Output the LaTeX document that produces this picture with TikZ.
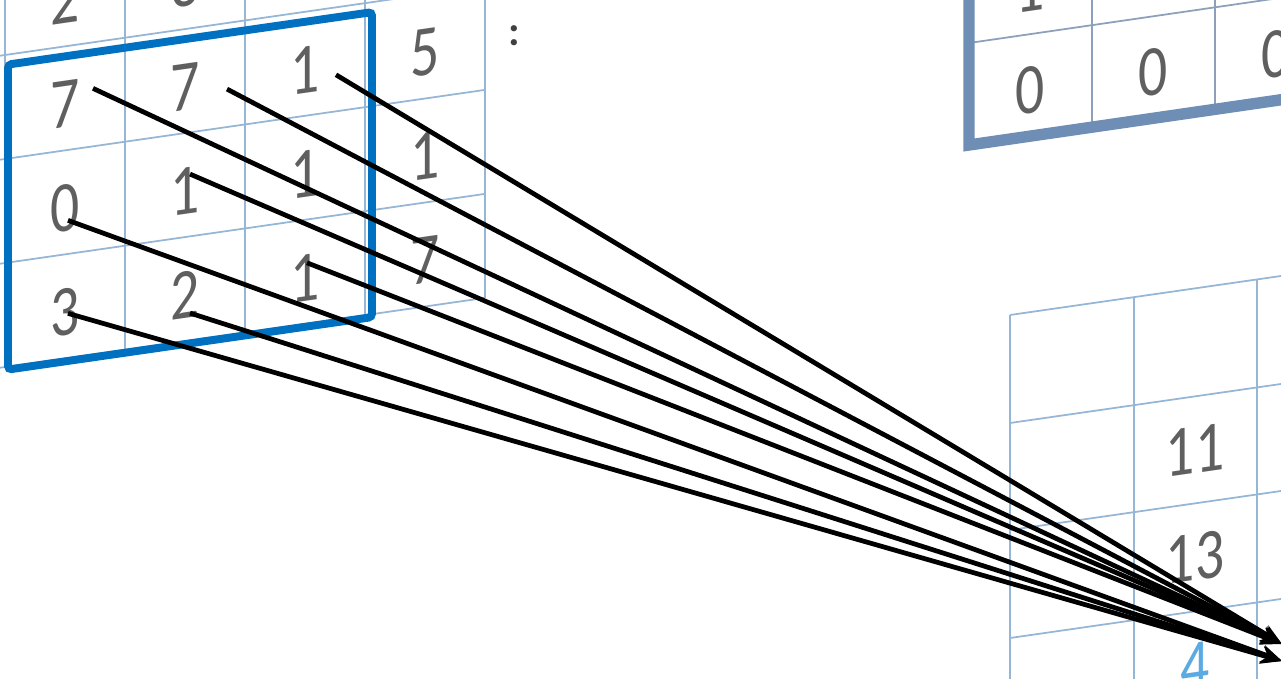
\documentclass[tikz,border=0pt]{standalone}
\usepackage{fontspec}
\setmainfont{Carlito}
\newfontfamily\digitfont[FakeStretch=0.8]{Carlito}
\usetikzlibrary{arrows.meta}

\definecolor{gridblue}{RGB}{150,182,214}
\definecolor{kernelblue}{RGB}{0,112,192}
\definecolor{outblue}{RGB}{110,142,182}
\definecolor{outgrid}{RGB}{140,160,186}
\definecolor{digitgray}{RGB}{95,95,95}
\definecolor{newblue}{RGB}{91,170,225}

\begin{document}
\begin{tikzpicture}[
    x=0.2mm, y=-0.2mm,
    cell/.style={draw=gridblue, line width=1pt},
    digit/.style={font=\digitfont\fontsize{41}{41}\selectfont, text=digitgray, inner sep=0pt, transform shape},
    link/.style={->, line width=2.7pt},
    >={Stealth[length=12pt,width=10pt]}
]
    \useasboundingbox (0,0) rectangle (1281,678);
    \clip (0,0) rectangle (1281,678);

    % Input grid (left)
    \begin{scope}[shift={(5,367)}, yslant=0.144]
        \foreach \x in {-120,0,...,480} \draw[cell] (\x,0) -- (\x,-520);
        \foreach \y in {0,-104,...,-416} \draw[cell] (-120,\y) -- (480,\y);

        \node[digit] (a30) at (60,-358) {2};
        \node[digit] (a31) at (180,-358) {3};

        \node[digit] (a20) at (60,-254) {7};
        \node[digit] (a21) at (180,-254) {7};
        \node[digit] (a22) at (300,-254) {1};
        \node[digit] (a23) at (420,-254) {5};

        \node[digit] (a10) at (60,-150) {0};
        \node[digit] (a11) at (180,-150) {1};
        \node[digit] (a12) at (300,-150) {1};
        \node[digit] (a13) at (420,-150) {1};

        \node[digit] (a00) at (60,-46) {3};
        \node[digit] (a01) at (180,-46) {2};
        \node[digit] (a02) at (300,-46) {1};
        \node[digit] (a03) at (420,-46) {7};

        % Kernel window
        \draw[kernelblue, line width=4.5pt, rounded corners=2pt]
            (3,3) -- (3,-302) -- (367,-302) -- (367,3) -- cycle;
    \end{scope}

    \node[font=\bfseries\fontsize{24}{24}\selectfont, text=black!75] (colon) at (514,36) {:};

    % Output grid (top right)
    \begin{scope}[shift={(969,145)}, yslant=0.145]
        \foreach \x in {123,246} \draw[draw=outgrid, line width=1pt] (\x,0) -- (\x,-300);
        \foreach \y in {-102,-204} \draw[draw=outgrid, line width=1pt] (0,\y) -- (330,\y);
        \draw[outblue, line width=6.5pt, line join=miter] (0,-300) -- (0,0) -- (330,0);

        \node[digit] (o10) at (61,-148) {1};
        \node[digit] (o00) at (61,-46) {0};
        \node[digit] (o01) at (184,-46) {0};
        \node[digit] (o02) at (307,-46) {0};
    \end{scope}

    % Result grid (bottom right)
    \begin{scope}[shift={(1010,315)}, yslant=0.144]
        \foreach \x in {0,124,247} \draw[cell] (\x,0) -- (\x,420);
        \foreach \y in {0,108,215,323} \draw[cell] (0,\y) -- (300,\y);

        \node[digit] (r11) at (185,162) {11};
        \node[digit] (r13) at (185,269) {13};
        \node[digit, text=newblue] (r4) at (185,378) {4};
    \end{scope}

    % Arrows
    \coordinate (t1) at (1282,644);
    \coordinate (t2) at (1282,661);

    \draw[link] ([shift={(28,-16)}]a20.center) -- (t1);
    \draw[link] ([shift={(42,2)}]a21.center) -- (t1);
    \draw[link] ([shift={(31,5)}]a22.center) -- (t1);
    \draw[link] ([shift={(5,-17)}]a11.center) -- (t1);
    \draw[link] ([shift={(2,-15)}]a02.center) -- (t1);
    \draw[link] ([shift={(3,12)}]a10.center) -- (t2);
    \draw[link] ([shift={(3,1)}]a00.center) -- (t2);
    \draw[link] ([shift={(5,18)}]a01.center) -- (t2);
\end{tikzpicture}
\end{document}
